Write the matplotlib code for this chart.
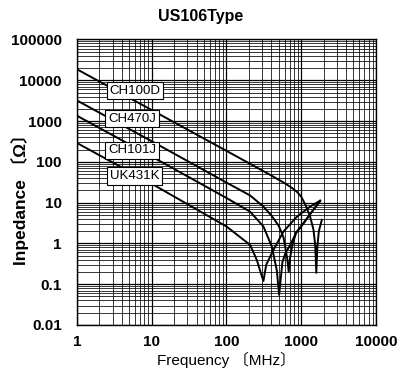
import matplotlib
matplotlib.use("Agg")
import matplotlib.pyplot as plt
from matplotlib.ticker import FixedLocator, NullFormatter

# ---- data ----
title = "US106Type"
xlabel = "Frequency 〔MHz〕"
ylabel = "Inpedance 〔Ω〕"

series_names = ["CH100D", "CH470J", "CH101J", "UK431K"]

ch100d_f = [1, 10, 100, 400, 600, 750, 873, 1000, 1150, 1316, 1456, 1540, 1590, 1640, 1720, 1888]
ch100d_z = [18600, 1860, 186, 46, 30, 23, 18.5, 14, 8.5, 4.5, 2.2, 0.9, 0.19, 0.8, 2.0, 3.8]

ch470j_f = [1, 10, 100, 207, 312, 400, 500, 580, 650, 680, 710, 760, 850, 1070, 1400, 1790]
ch470j_z = [3200, 320, 31, 15, 8.0, 4.8, 2.7, 1.4, 0.42, 0.2, 0.45, 0.9, 1.8, 3.1, 6.1, 11]

ch101j_f = [1, 10, 100, 207, 312, 404, 471, 506, 560, 620, 710, 850, 1070, 1400, 1790]
ch101j_z = [1350, 135, 13, 6.0, 2.6, 0.84, 0.22, 0.055, 0.35, 0.6, 0.9, 1.8, 3.1, 6.1, 11]

uk431k_f = [1, 10, 100, 207, 255, 290, 312, 340, 424, 578, 873, 1316, 1790]
uk431k_z = [290, 29, 2.6, 0.92, 0.39, 0.18, 0.12, 0.3, 0.69, 1.95, 4.5, 8.0, 11.2]

# label anchor positions (left edge, centre) in data units
label_f = [2.75, 2.6, 2.6, 2.75]
label_z = [5600, 1150, 190, 45]

xticks = [1, 10, 100, 1000, 10000]
xticklabels = ["1", "10", "100", "1000", "10000"]
yticks = [0.01, 0.1, 1, 10, 100, 1000, 10000, 100000]
yticklabels = ["0.01", "0.1", "1", "10", "100", "1000", "10000", "100000"]

FONT = ["Liberation Sans", "Noto Sans CJK JP", "DejaVu Sans"]
plt.rcParams["font.family"] = FONT

fig = plt.figure(figsize=(4.02, 3.79), dpi=100)
ax = fig.add_axes([0.1915, 0.1425, 0.7438, 0.7533])
ax.set_xscale("log")
ax.set_yscale("log")
ax.set_xlim(1, 10000)
ax.set_ylim(0.01, 100000)

# grid
minor_x = [m * 10 ** d for d in range(0, 4) for m in range(2, 10)]
minor_y = [m * 10.0 ** d for d in range(-2, 5) for m in range(2, 10)]
ax.xaxis.set_minor_locator(FixedLocator(minor_x))
ax.yaxis.set_minor_locator(FixedLocator(minor_y))
ax.xaxis.set_minor_formatter(NullFormatter())
ax.yaxis.set_minor_formatter(NullFormatter())
ax.grid(which="major", color="black", linewidth=0.9)
ax.grid(which="minor", color="black", linewidth=0.55)
ax.set_axisbelow(True)

for f, z in [(ch100d_f, ch100d_z), (ch470j_f, ch470j_z),
             (ch101j_f, ch101j_z), (uk431k_f, uk431k_z)]:
    ax.plot(f, z, color="black", linewidth=1.4, zorder=3)

for name, lf, lz in zip(series_names, label_f, label_z):
    ax.text(lf, lz, name, fontsize=9.5, ha="left", va="center", zorder=4,
            bbox=dict(boxstyle="square,pad=0.2", facecolor="white",
                      edgecolor="black", linewidth=0.8))

ax.set_xticks(xticks)
ax.set_xticklabels(xticklabels, fontsize=11, fontweight="bold")
ax.set_yticks(yticks)
ax.set_yticklabels(yticklabels, fontsize=11, fontweight="bold")
ax.tick_params(which="both", length=0)
ax.tick_params(axis="x", pad=7)
ax.tick_params(axis="y", pad=11)

for s in ax.spines.values():
    s.set_linewidth(1.0)

fig.text(0.5, 0.957, title, ha="center", va="center", fontsize=11.5, fontweight="bold")
ax.set_xlabel(xlabel, fontsize=11, labelpad=2)
fig.text(20 / 402, 1 - 195 / 379, ylabel, rotation=90, ha="center", va="center",
         fontsize=12.5, fontweight="bold")

fig.savefig("out.png", dpi=100)
